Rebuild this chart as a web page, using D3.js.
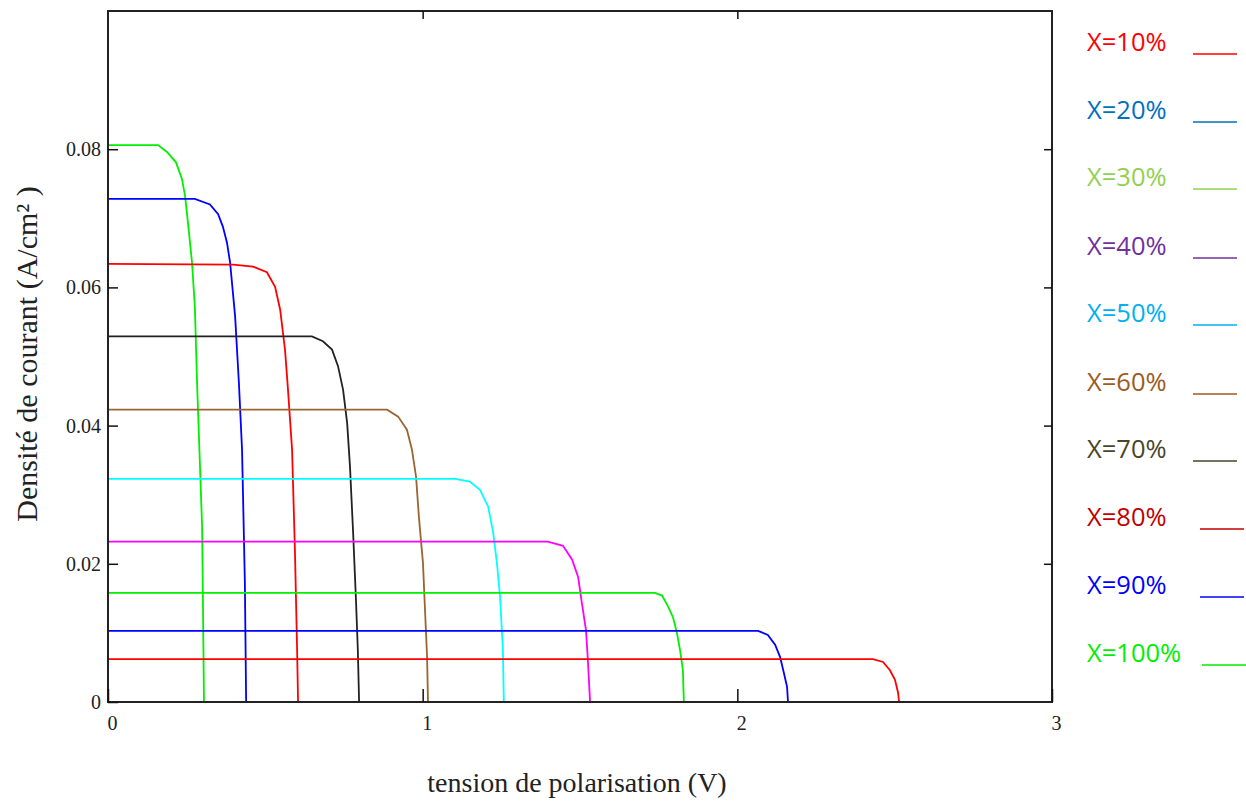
<!DOCTYPE html>
<html>
<head>
<meta charset="utf-8">
<script src="https://cdn.jsdelivr.net/npm/d3@7"></script>
<style>
  body { margin: 0; background: #fff; }
  svg { display: block; }
  .tick text { font-family: "Liberation Serif", "DejaVu Serif", serif; font-size: 20px; fill: #222; }
  .tick line { stroke: #111; stroke-width: 1.5; }
  .title { font-family: "Liberation Serif", "DejaVu Serif", serif; font-size: 28px; fill: #222; }
  .leg { font-family: "Open Sans", "Noto Sans", sans-serif; font-size: 25.5px; }
</style>
</head>
<body>
<svg width="1246" height="801"></svg>
<script>
// courbes J(V) : [tension V, densité A/cm²]
let curveA = [[0, 0.0806], [0.159, 0.0806], [0.1875, 0.0796], [0.216, 0.0781], [0.235, 0.0757], [0.245, 0.0732], [0.254, 0.0694], [0.267, 0.0636], [0.276, 0.0572], [0.283, 0.0462], [0.292, 0.0346], [0.299, 0.0254], [0.302, 0.0133], [0.305, 0]]
let curveB = [[0, 0.0728], [0.276, 0.0728], [0.324, 0.0720], [0.350, 0.0706], [0.365, 0.0688], [0.378, 0.0665], [0.388, 0.0636], [0.404, 0.0558], [0.416, 0.0462], [0.426, 0.0365], [0.435, 0.0172], [0.439, 0]]
let curveC = [[0, 0.0634], [0.397, 0.0633], [0.461, 0.0630], [0.505, 0.0622], [0.531, 0.0601], [0.547, 0.0568], [0.5625, 0.0510], [0.572, 0.0452], [0.585, 0.0365], [0.594, 0.0220], [0.601, 0.0075], [0.604, 0]]
let curveD = [[0, 0.0529], [0.648, 0.0529], [0.683, 0.0522], [0.712, 0.0510], [0.731, 0.0486], [0.747, 0.0452], [0.760, 0.0404], [0.769, 0.0341], [0.779, 0.0245], [0.788, 0.0148], [0.794, 0.0075], [0.798, 0]]
let curveE = [[0, 0.0423], [0.887, 0.0423], [0.922, 0.0413], [0.950, 0.0394], [0.966, 0.0365], [0.979, 0.0326], [0.988, 0.0268], [1.001, 0.0201], [1.007, 0.0138], [1.014, 0.0065], [1.017, 0]]
let curveF = [[0, 0.0323], [1.103, 0.0323], [1.150, 0.0319], [1.182, 0.0307], [1.208, 0.0283], [1.224, 0.0245], [1.236, 0.0201], [1.246, 0.0152], [1.255, 0.0075], [1.258, 0]]
let curveG = [[0, 0.0232], [1.398, 0.0232], [1.446, 0.0226], [1.475, 0.0206], [1.494, 0.0181], [1.506, 0.0143], [1.519, 0.0104], [1.525, 0.0061], [1.532, 0]]
let curveH = [[0, 0.0158], [1.738, 0.0158], [1.761, 0.0154], [1.780, 0.0138], [1.796, 0.0122], [1.808, 0.0100], [1.818, 0.0075], [1.827, 0.0046], [1.830, 0]]
let curveI = [[0, 0.0103], [2.066, 0.0103], [2.097, 0.0097], [2.120, 0.0083], [2.136, 0.0065], [2.148, 0.0042], [2.158, 0.0022], [2.161, 0]]
let curveJ = [[0, 0.0062], [2.431, 0.0062], [2.463, 0.0058], [2.485, 0.0046], [2.501, 0.0032], [2.511, 0.0013], [2.514, 0]]

let curves = [curveA, curveB, curveC, curveD, curveE, curveF, curveG, curveH, curveI, curveJ]
let curveColors = ['#00f000', '#0000ff', '#ff0000', '#222222', '#9c6430', '#00ffff', '#ff00ff', '#00f000', '#0000ff', '#ff0000']

let xTicks = [0, 1, 2, 3]
let yTicks = [0, 0.02, 0.04, 0.06, 0.08]
let yLabels = ['0', '0.02', '0.04', '0.06', '0.08']

let legendLabels = ['X=10%', 'X=20%', 'X=30%', 'X=40%', 'X=50%', 'X=60%', 'X=70%', 'X=80%', 'X=90%', 'X=100%']
let legendColors = ['#ff0000', '#0070c0', '#92d050', '#7030a0', '#00b0f0', '#9c5a1e', '#494529', '#c00000', '#0000ff', '#00ee00']

let mLeft = 108, mRight = 1052, mTop = 11, mBottom = 702

let svg = d3.select('svg')

let x = d3.scaleLinear().domain([0, 3]).range([mLeft, mRight])
let y = d3.scaleLinear().domain([0, 0.1]).range([mBottom, mTop])

let line = d3.line()
  .x(d => x(d[0]))
  .y(d => y(d[1]))

svg.append('g')
  .selectAll('path')
  .data(curves)
  .enter()
  .append('path')
  .attr('d', line)
  .attr('fill', 'none')
  .attr('stroke', (d, i) => curveColors[i])
  .attr('stroke-width', 1.8)

// cadre
svg.append('rect')
  .attr('x', mLeft)
  .attr('y', mTop)
  .attr('width', mRight - mLeft)
  .attr('height', mBottom - mTop)
  .attr('fill', 'none')
  .attr('stroke', '#222')
  .attr('stroke-width', 2)

let yAxis = d3.axisLeft(y)
  .tickValues(yTicks)
  .tickSize(-10)
  .tickPadding(7)
  .tickFormat((d, i) => yLabels[i])

let xAxis = d3.axisBottom(x)
  .tickValues(xTicks)
  .tickSize(-13)
  .tickPadding(14)
  .tickFormat(d3.format('d'))

svg.append('g')
  .attr('transform', 'translate(' + mLeft + ',0)')
  .call(yAxis)
  .call(g => g.select('.domain').remove())

svg.append('g')
  .attr('transform', 'translate(0,' + mBottom + ')')
  .call(xAxis)
  .call(g => g.select('.domain').remove())
  .selectAll('.tick text')
  .attr('dx', 4)

svg.append('g')
  .attr('transform', 'translate(' + mRight + ',0)')
  .call(d3.axisRight(y).tickValues(yTicks.slice(1)).tickSize(-8).tickFormat(''))
  .call(g => g.select('.domain').remove())

svg.append('g')
  .attr('transform', 'translate(0,' + mTop + ')')
  .call(d3.axisTop(x).tickValues(xTicks.slice(1, 3)).tickSize(-8).tickFormat(''))
  .call(g => g.select('.domain').remove())

svg.append('text')
  .attr('class', 'title')
  .attr('x', 577)
  .attr('y', 792)
  .attr('text-anchor', 'middle')
  .text('tension de polarisation (V)')

svg.append('text')
  .attr('class', 'title')
  .attr('transform', 'translate(37,354) rotate(-90)')
  .attr('text-anchor', 'middle')
  .style('font-size', '30px')
  .text('Densité de courant (A/cm² )')

// légende
let legY = [42, 110, 177, 246, 313, 382, 449, 517, 585, 653]
let legLineX = [1193, 1193, 1193, 1193, 1193, 1193, 1193, 1200, 1200, 1202]

let leg = svg.append('g')
  .selectAll('g')
  .data(legendLabels)
  .enter()
  .append('g')

leg.append('text')
  .attr('class', 'leg')
  .attr('x', 1087)
  .attr('y', (d, i) => legY[i])
  .attr('dy', '0.35em')
  .attr('fill', (d, i) => legendColors[i])
  .text(d => d)

leg.append('line')
  .attr('x1', (d, i) => legLineX[i])
  .attr('x2', (d, i) => legLineX[i] + 44)
  .attr('y1', (d, i) => legY[i] + 12)
  .attr('y2', (d, i) => legY[i] + 12)
  .attr('stroke', (d, i) => legendColors[i])
  .attr('stroke-width', 1.5)
</script>
</body>
</html>
